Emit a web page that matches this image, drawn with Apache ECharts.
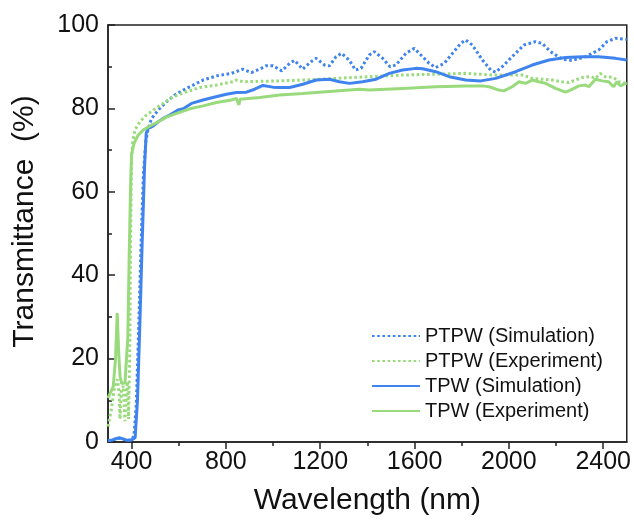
<!DOCTYPE html>
<html>
<head>
<meta charset="utf-8">
<script src="https://cdn.jsdelivr.net/npm/echarts@6/dist/echarts.min.js"></script>
<style>
html,body{margin:0;padding:0;background:#fff;}
#chart{width:634px;height:522px;}
</style>
</head>
<body>
<div id="chart"></div>
<script>
// ---- Data ----
var xMajorTicks = [400, 800, 1200, 1600, 2000, 2400];
var xMinorTicks = [600, 1000, 1400, 1800, 2200];
var seriesNames = ['PTPW (Simulation)', 'PTPW (Experiment)', 'TPW (Simulation)', 'TPW (Experiment)'];

var ptpwSimX = [300,320,340,360,380,400,410,420,430,440,450,460,470,484,513,548,583,619,661,703,760,823,872,908,943,970,1000,1037,1070,1091,1126,1161,1183,1218,1239,1267,1290,1324,1349,1373,1408,1429,1465,1496,1521,1563,1599,1620,1662,1690,1726,1761,1796,1817,1845,1888,1923,1944,1972,2014,2064,2113,2141,2177,2226,2268,2325,2381,2416,2452,2494,2500];
var ptpwSimY = [0.3,0.5,0.9,0.8,0.4,0.5,1.5,9,27,47,64,72,75,77.5,79.6,81.6,83.2,84.4,85.6,86.8,87.8,88.4,89.4,88.6,89.4,90.2,90.2,89,90.8,91.5,89.4,91.2,92,90.4,90.2,92.4,93.2,91.5,89.2,89.6,92.8,93.6,92,90,90.4,93.2,94.4,93.2,90.8,89.8,90.8,93.2,95.6,96.4,95.2,91.6,89.2,88.7,90,92.4,95.2,96,95.6,93.6,91.8,91.5,92.4,94,96,96.8,96.6,96.6];

var ptpwExpX = [300,315,328,340,347,351,356,365,372,378,383,387,392,396,400,405,414,435,463,492,534,576,633,689,760,830,844,872,1028,1126,1267,1408,1549,1690,1817,1930,2057,2099,2141,2184,2226,2254,2282,2311,2346,2367,2388,2409,2444,2466,2500];
var ptpwExpY = [3.7,8,13.5,15,12,5.5,12,13.5,5,13,14.5,5.5,20,50,68,72,74.8,76.8,78.4,79.6,81.2,82.8,84,85,85.6,86.4,86.8,86.4,86.6,86.8,87.2,87.6,88,88.2,88.4,88,88,87.2,87,86.8,86.4,86.2,86.8,87.4,87.6,87.2,88.4,87.6,87.4,86.4,86];

var tpwSimX = [300,320,340,350,360,380,400,415,425,435,445,455,462,470,480,492,513,534,562,597,619,654,703,745,802,844,887,922,957,999,1028,1070,1126,1183,1239,1281,1324,1380,1437,1493,1549,1606,1634,1690,1747,1817,1881,1944,2029,2099,2170,2240,2311,2381,2452,2500];
var tpwSimY = [0.3,0.5,0.9,1.0,0.8,0.4,0.5,1,10,28,48,66,74,75.3,75.4,75.8,76.8,77.6,78.4,79.6,79.9,81.2,82,82.6,83.4,83.8,83.9,84.6,85.5,85.1,85,85,85.8,86.8,87,86.4,86,86.4,87,88.4,89.2,89.6,89.5,88.8,87.6,86.8,86.6,87.2,88.8,90.4,91.6,92.2,92.4,92.4,92,91.6];

var tpwExpX = [300,322,332,339,345,351,358,365,372,379,384,390,396,400,411,428,449,478,513,548,591,647,703,760,823,844,850,855,860,943,1028,1126,1267,1366,1408,1549,1690,1817,1888,1916,1958,1979,2014,2043,2071,2099,2127,2156,2198,2240,2261,2297,2325,2339,2367,2395,2423,2444,2458,2473,2494,2500];
var tpwExpY = [10.5,13.3,20,30.9,22,15.7,14,13.7,14.2,14.5,25,45,62,69,71.7,73.6,74.8,75.8,76.8,77.9,78.8,79.9,80.6,81.4,82,82.4,82.3,80.8,82.2,82.6,83.2,83.6,84.2,84.6,84.4,84.8,85.2,85.4,85.4,85.2,84.4,84.2,85.2,86.4,86,86.8,86.4,86,84.8,83.9,84.4,85.4,85.6,85.2,87,86.6,86.4,85.2,86.4,85.4,86,86];

function zip(xs, ys) { return xs.map(function (x, i) { return [x, ys[i]]; }); }

var BLUE = '#3f83ee';
var GREEN = '#99db7c';
var FONT = 'Liberation Sans, Arial, Helvetica, sans-serif';
var AXIS_COLOR = '#222';

var chart = echarts.init(document.getElementById('chart'), null, {renderer: 'canvas'});
chart.setOption({
  animation: false,
  backgroundColor: '#fff',
  textStyle: {fontFamily: FONT},
  grid: {left: 108, right: 7, top: 25, bottom: 80, show: true, borderColor: AXIS_COLOR, borderWidth: 1.5, backgroundColor: 'transparent'},
  legend: {
    left: 366, top: 321, orient: 'vertical',
    itemWidth: 48, itemHeight: 14, itemGap: 5,
    data: seriesNames,
    itemStyle: {opacity: 0},
    textStyle: {fontFamily: FONT, fontSize: 20, color: '#111', lineHeight: 20}
  },
  xAxis: [{
    type: 'value', min: 300, max: 2500,
    name: 'Wavelength (nm)', nameLocation: 'middle', nameGap: 44,
    nameTextStyle: {fontFamily: FONT, fontSize: 30, color: '#111'},
    axisLine: {show: true, lineStyle: {color: AXIS_COLOR, width: 1.5}},
    axisTick: {show: true, inside: false, length: 7, lineStyle: {color: AXIS_COLOR, width: 1.5}, customValues: xMajorTicks},
    axisLabel: {show: true, margin: 8, fontFamily: FONT, fontSize: 25, color: '#111', customValues: xMajorTicks,
      formatter: function (v) { return String(v); }},
    splitLine: {show: false}
  }, {
    type: 'value', min: 300, max: 2500, position: 'bottom',
    axisLine: {show: false},
    axisTick: {show: true, inside: false, length: 4, lineStyle: {color: AXIS_COLOR, width: 1.5}, customValues: xMinorTicks},
    axisLabel: {show: false},
    splitLine: {show: false}
  }],
  yAxis: {
    type: 'value', min: 0, max: 100, interval: 20,
    name: 'Transmittance  (%)', nameLocation: 'middle', nameGap: 68, nameRotate: 90,
    nameTextStyle: {fontFamily: FONT, fontSize: 30, color: '#111', padding: [0, 0, 0, 24]},
    axisLine: {show: true, lineStyle: {color: AXIS_COLOR, width: 1.5}},
    axisTick: {show: true, inside: true, length: 7, lineStyle: {color: AXIS_COLOR, width: 1.5}},
    minorTick: {show: true, splitNumber: 2, length: 4, lineStyle: {color: AXIS_COLOR, width: 1.5}},
    axisLabel: {margin: 9, fontFamily: FONT, fontSize: 25, color: '#111'},
    splitLine: {show: false}
  },
  series: [
    {name: seriesNames[0], type: 'line', data: zip(ptpwSimX, ptpwSimY), symbol: 'none', smooth: false,
     lineStyle: {color: BLUE, width: 3, type: [2.6, 2.6], cap: 'butt'}, itemStyle: {color: BLUE}},
    {name: seriesNames[1], type: 'line', data: zip(ptpwExpX, ptpwExpY), symbol: 'none',
     lineStyle: {color: GREEN, width: 3, type: [2.6, 2.6], cap: 'butt'}, itemStyle: {color: GREEN}},
    {name: seriesNames[2], type: 'line', data: zip(tpwSimX, tpwSimY), symbol: 'none',
     lineStyle: {color: BLUE, width: 3}, itemStyle: {color: BLUE}},
    {name: seriesNames[3], type: 'line', data: zip(tpwExpX, tpwExpY), symbol: 'none',
     lineStyle: {color: GREEN, width: 3}, itemStyle: {color: GREEN}}
  ]
});
</script>
</body>
</html>
